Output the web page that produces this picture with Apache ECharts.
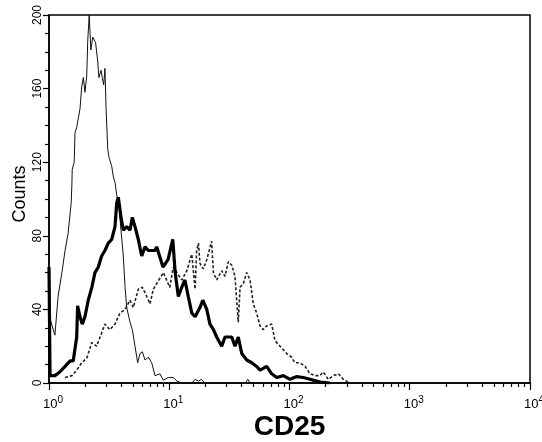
<!DOCTYPE html>
<html>
<head>
<meta charset="utf-8">
<script src="https://cdn.jsdelivr.net/npm/echarts@6/dist/echarts.min.js"></script>
<style>
  html, body { margin: 0; padding: 0; background: #fff; }
  #chart { width: 542px; height: 442px; }
</style>
</head>
<body>
<div id="chart"></div>
<script>
// CD25 fluorescence (log scale) vs cell counts, three overlaid histograms
const isoX = [1.0, 1.02, 1.12, 1.19, 1.28, 1.36, 1.44, 1.53, 1.55, 1.56, 1.62, 1.645, 1.70, 1.81, 1.87, 1.93, 1.99, 2.06, 2.10, 2.16, 2.23, 2.31, 2.38, 2.44, 2.54, 2.60, 2.71, 2.77, 2.85, 2.92, 2.98, 3.08, 3.17, 3.32, 3.43, 3.54, 3.66, 3.82, 3.97, 4.15, 4.29, 4.43, 4.72, 4.93, 5.19, 5.46, 5.71, 5.97, 6.29, 6.70, 7.15, 7.61, 8.37, 8.93, 9.8, 10.8, 11.6, 12.7, 15.4, 16.4, 17.5, 18.5, 19.8, 43, 45, 47, 60];
const isoY = [92, 35, 26, 47, 60, 72, 81, 98, 108, 116, 120, 136, 139, 149, 161, 166, 158, 167, 186, 200, 181, 188, 189, 185, 175, 166, 170, 166, 162, 171, 150, 127, 122, 118, 112, 109, 102, 96, 83, 69, 52, 41, 33, 29, 20, 11, 16, 17, 12.5, 14, 11, 4, 5, 1.5, 3, 3, 1, 0, 0, 2, 1, 2, 0, 0, 2, 0, 0];

const thickX = [1.0, 1.02, 1.12, 1.23, 1.36, 1.50, 1.59, 1.70, 1.73, 1.81, 1.89, 1.99, 2.12, 2.27, 2.41, 2.57, 2.74, 2.92, 3.11, 3.32, 3.54, 3.66, 3.77, 3.97, 4.15, 4.43, 4.72, 4.93, 5.19, 5.53, 5.90, 6.29, 6.70, 7.15, 7.61, 7.86, 8.87, 9.77, 10.7, 11.2, 11.9, 12.7, 13.5, 14.4, 15.4, 16.4, 18.0, 19.0, 20.5, 21.8, 23.3, 24.8, 27.3, 29.1, 31.0, 33.1, 35.2, 37.5, 40.1, 44.1, 48.5, 53.3, 56.9, 64.6, 71.1, 78.3, 88.8, 101, 115, 130, 148, 168, 180, 217];
const thickY = [63, 4, 4, 6, 9, 12, 12, 25, 42, 36, 32, 36, 45, 52, 60, 63, 69, 72, 76, 78, 85, 98, 101, 90, 83, 85, 83, 90, 85, 78, 69, 74, 72, 72, 72, 74, 63, 67, 78, 60, 47, 52, 56, 47, 38, 36, 41, 45, 40, 32, 29, 25, 20, 25, 25, 25, 20, 25, 16, 12.5, 11, 9, 7, 9, 5, 3, 4, 2, 3.5, 3, 2, 1, 0.5, 0];

const dashX = [1.36, 1.55, 1.70, 1.87, 2.06, 2.27, 2.49, 2.66, 2.92, 3.21, 3.54, 3.89, 4.29, 4.72, 5.02, 5.53, 5.97, 6.50, 6.92, 7.37, 7.86, 8.93, 10.1, 10.8, 12.7, 14.0, 15.4, 16.4, 16.9, 17.5, 18.0, 19.2, 20.5, 22.5, 23.3, 24.8, 27.3, 29.1, 31.0, 33.1, 35.2, 37.5, 38.8, 41.3, 44.1, 47.0, 50.0, 53.3, 56.9, 60.5, 64.6, 71.1, 75.7, 83.4, 94.8, 104, 111, 122, 135, 148, 163, 179, 191, 210, 231, 255, 280, 299, 307];
const dashY = [3, 4, 7, 11, 13.5, 22, 20, 25, 32, 29, 32, 38, 40, 45, 41, 51, 52, 47, 43, 51, 54, 60, 52, 63, 56, 61, 70, 51, 72, 76, 65, 62, 67, 77, 60, 56, 61, 58, 66, 64, 58, 33, 52, 54, 60, 56, 43, 38, 31, 29, 31, 32, 23, 20, 16, 14, 11, 11, 9, 5, 4, 4, 6, 2, 4, 5, 2, 1, 0];

const decadeTicks = [1, 10, 100, 1000, 10000];
const minorMultiples = [2, 3, 4, 5, 6, 7, 8, 9];
const yTicks = [0, 40, 80, 120, 160, 200];

function pairs(xs, ys) {
    return xs.map((x, i) => [x, ys[i]]);
}

// minor ticks of the log axis, placed in log10 space on a helper axis
const minorTickPos = [];
for (let d = 0; d < 4; d++) {
    minorMultiples.forEach(m => minorTickPos.push(d + Math.log10(m)));
}

const chart = echarts.init(document.getElementById("chart"));

const option = {
    animation: false,
    textStyle: { fontFamily: "Liberation Sans, Arial, sans-serif", color: "#000" },
    grid: {
        left: 49,
        right: 12,
        top: 15,
        bottom: 59,
        outerBoundsMode: "none",
        containLabel: false,
        show: true,
        borderColor: "#000",
        borderWidth: 1.5,
    },
    xAxis: [
        {
            type: "log",
            logBase: 10,
            min: decadeTicks[0],
            max: decadeTicks[decadeTicks.length - 1],
            axisLine: { lineStyle: { color: "#000", width: 1.5 } },
            axisTick: { length: 7, lineStyle: { color: "#000", width: 1.2 } },
            splitLine: { show: false },
            axisLabel: {
                margin: 12,
                padding: [0, 0, 0, 8],
                formatter: v => "{b|10}{s|" + Math.round(Math.log10(v)) + "}",
                rich: {
                    b: { fontSize: 13, color: "#000", fontFamily: "Liberation Sans" },
                    s: { fontSize: 10, color: "#000", fontFamily: "Liberation Sans", padding: [0, 0, 8, 0] },
                },
            },
            name: "CD25",
            nameLocation: "middle",
            nameGap: 30,
            nameMoveOverlap: false,
            nameTextStyle: { fontSize: 28, fontWeight: "bold", color: "#000", fontFamily: "Liberation Sans" },
        },
        {
            type: "value",
            min: 0,
            max: 4,
            position: "bottom",
            axisLine: { show: false },
            axisTick: {
                show: true,
                customValues: minorTickPos,
                length: 4,
                lineStyle: { color: "#000", width: 1.2 },
            },
            axisLabel: { show: false },
            splitLine: { show: false },
        },
    ],
    yAxis: {
        type: "value",
        min: yTicks[0],
        max: yTicks[yTicks.length - 1],
        interval: 40,
        axisLine: { show: true, lineStyle: { color: "#000", width: 1.5 } },
        axisTick: { show: true, length: 6, lineStyle: { color: "#000", width: 1.2 } },
        minorTick: { show: true, splitNumber: 4, length: 4, lineStyle: { color: "#000", width: 1.2 } },
        splitLine: { show: false },
        axisLabel: {
            rotate: 90,
            margin: 5,
            fontSize: 12,
            color: "#000",
        },
        name: "Counts",
        nameLocation: "middle",
        nameRotate: 90,
        nameGap: 20,
        nameMoveOverlap: false,
        nameTextStyle: {
            fontSize: 18,
            color: "#000",
            fontFamily: "Liberation Sans",
            padding: [0, 0, 0, 10],
        },
    },
    series: [
        {
            name: "thin",
            type: "line",
            xAxisIndex: 0,
            showSymbol: false,
            data: pairs(isoX, isoY),
            lineStyle: { color: "#111", width: 1 },
            z: 2,
        },
        {
            name: "dashed",
            type: "line",
            xAxisIndex: 0,
            showSymbol: false,
            data: pairs(dashX, dashY),
            lineStyle: { color: "#222", width: 1.6, type: [3, 2] },
            z: 3,
        },
        {
            name: "thick",
            type: "line",
            xAxisIndex: 0,
            showSymbol: false,
            data: pairs(thickX, thickY),
            lineStyle: { color: "#000", width: 3.2 },
            z: 4,
        },
    ],
};

chart.setOption(option);
</script>
</body>
</html>
